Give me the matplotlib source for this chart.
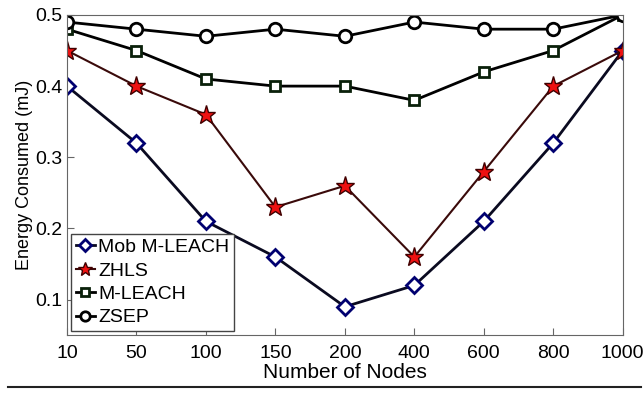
import numpy as np
import matplotlib
matplotlib.use('Agg')
import matplotlib.pyplot as plt
from matplotlib.lines import Line2D

plt.rcParams['font.family'] = ['Liberation Sans', 'DejaVu Sans']

nodes = ['10', '50', '100', '150', '200', '400', '600', '800', '1000']
mob_mleach = [0.40, 0.32, 0.21, 0.16, 0.09, 0.12, 0.21, 0.32, 0.45]
zhls = [0.45, 0.40, 0.36, 0.23, 0.26, 0.16, 0.28, 0.40, 0.45]
mleach = [0.48, 0.45, 0.41, 0.40, 0.40, 0.38, 0.42, 0.45, 0.50]
zsep = [0.49, 0.48, 0.47, 0.48, 0.47, 0.49, 0.48, 0.48, 0.50]

x = np.arange(len(nodes))

fig = plt.figure(figsize=(6.44, 3.93), dpi=100)
ax = fig.add_axes([0.104, 0.147, 0.863, 0.815])

ax.plot(x, mob_mleach, color='#0a0a20', lw=2, marker='D', ms=8,
        mfc='white', mec='#000070', mew=2, label='Mob M-LEACH')
ax.plot(x, zhls, color='#3a0a0a', lw=1.5, marker='*', ms=14,
        mfc='#ee1111', mec='#400000', mew=1, label='ZHLS')
ax.plot(x, mleach, color='black', lw=2, marker='s', ms=7,
        mfc='white', mec='#0a200a', mew=2, label='M-LEACH')
ax.plot(x, zsep, color='black', lw=2, marker='o', ms=9,
        mfc='white', mec='black', mew=2, label='ZSEP')

ax.set_xlim(0, len(nodes) - 1)
ax.set_ylim(0.05, 0.5)
ax.set_xticks(x)
ax.set_xticklabels(nodes)
ax.set_yticks([0.1, 0.2, 0.3, 0.4, 0.5])
ax.tick_params(direction='in', labelsize=14, length=5, color='#666666')
ax.tick_params(axis='x', pad=7)
ax.tick_params(axis='y', pad=3)
for s in ax.spines.values():
    s.set_color('#666666')

ax.set_xlabel('Number of Nodes', fontsize=15, labelpad=1)
ax.set_ylabel('Energy Consumed (mJ)', fontsize=13, labelpad=2)

leg = ax.legend(loc='lower left', fontsize=14, handlelength=1.0,
                handletextpad=0.15, borderaxespad=0.2, borderpad=0.25,
                labelspacing=0.3, fancybox=False, framealpha=1, markerscale=0.75)
leg.get_frame().set_edgecolor('#444444')
leg.get_frame().set_linewidth(1)

fig.add_artist(Line2D([0.012, 0.995], [0.014, 0.014], color='#222222', lw=1.5,
                      transform=fig.transFigure))

fig.savefig('out.png', dpi=100)
